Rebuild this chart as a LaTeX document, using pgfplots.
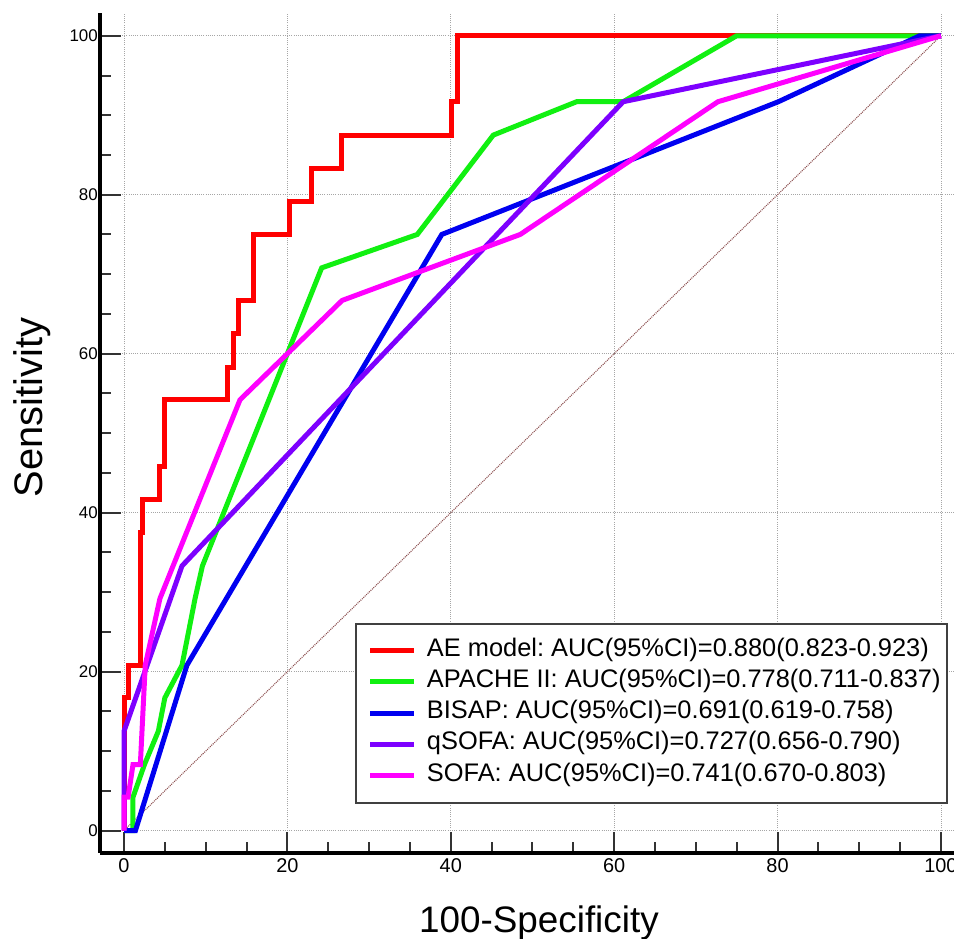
\documentclass[border=0pt]{standalone}
\usepackage{pgfplots}
\pgfplotsset{compat=1.18}
\usepackage{fontspec}
\setmainfont{Liberation Sans}
\frenchspacing
\definecolor{cRed}{RGB}{255,0,0}
\definecolor{cGreen}{RGB}{17,240,17}
\definecolor{cBlue}{RGB}{0,0,240}
\definecolor{cPurple}{RGB}{125,0,255}
\definecolor{cMag}{RGB}{255,0,255}
\definecolor{cDiag}{RGB}{140,80,80}
\begin{document}
\begin{tikzpicture}
\begin{axis}[
  scale only axis,
  width=857.4bp, height=840bp,
  xmin=-2.94, xmax=102, ymin=-2.77, ymax=102.9,
  axis x line=bottom, axis y line=left,
  axis line style={-, line width=4bp, black},
  xtick={0,20,...,100}, ytick={0,20,...,100},
  minor x tick num=3, minor y tick num=3,
  tick align=inside,
  major tick length=21bp, minor tick length=11bp,
  every tick/.style={line width=2bp, black!80},
  grid=major,
  major grid style={line width=0.8bp, black!35, dash pattern=on 1bp off 1.2bp},
  /pgf/number format/assume math mode=true,
  xticklabel style={font=\fontsize{20}{20}\selectfont, inner ysep=6bp},
  yticklabel style={font=\fontsize{17}{17}\selectfont, inner xsep=2bp},
  xlabel={100-Specificity},
  ylabel={Sensitivity},
  xlabel style={font=\fontsize{37}{37}\selectfont, at={(axis description cs:0.512,-0.0952)}, anchor=base},
  ylabel style={font=\fontsize{40}{40}\selectfont, at={(axis description cs:-0.0665,0.53)}, anchor=base},
  legend cell align=left,
  legend image code/.code={\path (-6bp,0bp); \draw[#1] (0bp,0bp) -- (44bp,0bp);},
  legend style={at={(axis cs:28.27,26.16)}, anchor=north west,
    draw=black!75, line width=2bp,
    inner xsep=6bp, inner ysep=15.5bp,
    row sep=8.25bp, column sep=10bp,
    font=\fontsize{25.5}{25.5}\selectfont,
    nodes={inner sep=0bp, text height=17bp, text depth=6bp}},
  every axis plot/.append style={line width=5bp, line join=miter, no markers},
]
\addplot[cDiag, line width=1.1bp, dash pattern=on 1bp off 1bp, forget plot] coordinates {(0,0) (100,100)};
\addplot[cRed] coordinates {(0,0) (0,16.7) (0.5,16.7) (0.5,20.8) (2.0,20.8) (2.0,37.5) (2.3,37.5) (2.3,41.7) (4.4,41.7) (4.4,45.8) (5.0,45.8) (5.0,54.2) (12.7,54.2) (12.7,58.3) (13.4,58.3) (13.4,62.5) (14.0,62.5) (14.0,66.7) (15.9,66.7) (15.9,75.0) (20.3,75.0) (20.3,79.2) (22.9,79.2) (22.9,83.3) (26.6,83.3) (26.6,87.5) (40.1,87.5) (40.1,91.7) (40.8,91.7) (40.8,100) (100,100)};
\addlegendentry{AE model: AUC(95\%CI)=0.880(0.823-0.923)}
\addplot[cGreen] coordinates {(0,0) (1.1,0) (1.1,4.2) (2.5,8.3) (4.2,12.5) (5.0,16.7) (7.1,20.8) (8.7,29.2) (9.6,33.3) (24.2,70.8) (35.9,75.0) (45.2,87.5) (55.4,91.7) (61.1,91.7) (75.0,100) (100,100)};
\addlegendentry{APACHE II: AUC(95\%CI)=0.778(0.711-0.837)}
\addplot[cBlue] coordinates {(0,0) (1.4,0) (7.7,20.8) (38.9,75.0) (80.1,91.7) (97.4,100) (100,100)};
\addlegendentry{BISAP: AUC(95\%CI)=0.691(0.619-0.758)}
\addplot[cPurple] coordinates {(0,0) (0,12.5) (7.1,33.3) (61.1,91.7) (100,100)};
\addlegendentry{qSOFA: AUC(95\%CI)=0.727(0.656-0.790)}
\addplot[cMag] coordinates {(0,0) (0,4.2) (0.5,4.2) (1.1,8.3) (2.0,8.3) (2.6,20.8) (4.4,29.2) (14.2,54.2) (26.7,66.7) (48.5,75.0) (72.7,91.7) (100,100)};
\addlegendentry{SOFA: AUC(95\%CI)=0.741(0.670-0.803)}
\coordinate (bbsw) at (axis cs:-15.18,-13.58);
\coordinate (bbne) at (axis cs:101.6,104.5);
\end{axis}
\pgfresetboundingbox
\path[use as bounding box] (bbsw) rectangle (bbne);
\end{tikzpicture}
\end{document}
